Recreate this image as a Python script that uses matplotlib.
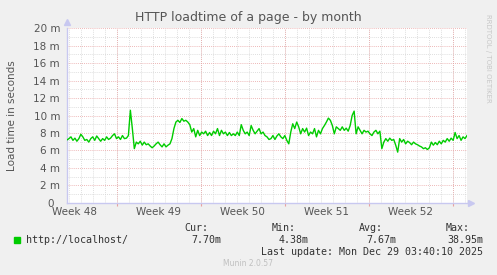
import matplotlib.pyplot as plt
import matplotlib.transforms as mtransforms
import numpy as np

# load time (milliseconds), ~2h averages over the month
load_ms = [
    7.2, 7.35, 7.55, 7.15, 7.4, 7.05, 7.35, 7.85, 7.55, 7.15,
    7.25, 6.95, 7.35, 7.55, 7.15, 7.65, 7.35, 7.05, 7.35, 7.15,
    7.55, 7.25, 7.4, 7.7, 7.9, 7.35, 7.55, 7.25, 7.7, 7.35,
    7.4, 7.7, 10.6, 8.5, 6.2, 6.95, 6.75, 7.05, 6.6, 6.95,
    6.65, 6.75, 6.5, 6.3, 6.5, 6.75, 6.95, 6.65, 6.4, 6.75,
    6.4, 6.6, 6.75, 7.35, 8.5, 9.25, 9.45, 9.2, 9.65, 9.35,
    9.45, 9.25, 8.95, 8.1, 8.5, 7.55, 8.3, 7.7, 8.1, 7.9,
    8.2, 7.7, 8.05, 7.7, 8.2, 7.9, 8.5, 7.7, 8.3, 7.9,
    8.1, 7.7, 8.05, 7.7, 7.9, 7.7, 8.1, 7.7, 8.95, 8.3,
    7.9, 8.1, 7.7, 8.85, 8.3, 7.9, 8.2, 8.5, 7.9, 8.1,
    7.7, 7.55, 7.25,
    7.35, 7.7, 7.25, 7.65, 7.9, 7.55, 7.35, 7.7, 7.15, 6.75,
    8.1, 9.05, 8.5, 9.25, 8.7, 7.9, 8.5, 8.1, 8.55, 7.7,
    8.1, 7.9, 8.5, 7.55, 8.3, 7.9, 8.5, 8.85, 9.25, 9.7,
    9.45, 8.85, 7.9, 8.7, 8.5, 8.3, 8.7, 8.3, 8.55, 8.2,
    8.85, 10.0, 10.5, 7.9, 8.7, 8.3, 7.9, 8.3, 8.1, 8.2,
    7.9, 7.7, 8.1, 8.3, 7.9, 8.2, 6.2, 6.95, 7.35, 7.05,
    7.4, 7.15, 7.25, 6.6, 5.8, 7.35, 6.95, 7.25, 6.75, 7.05,
    6.9, 6.65, 6.95, 6.75, 6.65, 6.5, 6.4, 6.2, 6.3, 6.1,
    6.3, 6.95, 6.6, 6.9, 6.65, 7.05, 6.75, 7.15, 6.95, 7.35,
    7.05, 7.4, 7.15, 8.05, 7.35, 7.7, 7.15, 7.55, 7.35, 7.7,
]
week_labels = ["Week 48", "Week 49", "Week 50", "Week 51", "Week 52"]
y_ticks = [0, 2, 4, 6, 8, 10, 12, 14, 16, 18, 20]
legend_name = "http://localhost/"
stats_names = ["Cur:", "Min:", "Avg:", "Max:"]
stats_values = ["7.70m", "4.38m", "7.67m", "38.95m"]
last_update = "Last update: Mon Dec 29 03:40:10 2025"

span_days = 33.33
first_monday = 4.14

W, H = 497, 275
bg = "#F0F0F0"
txt = "#555555"
axis_col = "#C8C8F0"

fig = plt.figure(figsize=(W / 100, H / 100), dpi=100, facecolor=bg)
ax = fig.add_axes([67 / W, 1 - 202.7 / H, 400 / W, (202.7 - 28.3) / H])
ax.set_facecolor("white")

t = np.linspace(0, span_days, len(load_ms))
ax.plot(t, load_ms, color="#00CC00", lw=1.0, zorder=3)

ax.set_xlim(0, span_days)
ax.set_ylim(0, 20)

# grid: minor grey dotted, major red dotted
minor_x = np.arange(first_monday % 1, span_days, 1.0)
major_x = np.arange(first_monday, span_days, 7.0)
for x in minor_x:
    ax.axvline(x, color="#D4D4D4", lw=0.6, ls=(0, (1, 1.5)), zorder=1)
for y in np.arange(1, 20, 2):
    ax.axhline(y, color="#D4D4D4", lw=0.6, ls=(0, (1, 1.5)), zorder=1)
for x in major_x:
    ax.axvline(x, color="#E8A0A0", lw=0.6, ls=(0, (1, 1.5)), zorder=2)
for y in y_ticks[1:]:
    ax.axhline(y, color="#E8A0A0", lw=0.6, ls=(0, (1, 1.5)), zorder=2)

ax.set_yticks(y_ticks)
ax.set_yticklabels([f"{v} m" if v else "0" for v in y_ticks], fontsize=7.5, color=txt)
ax.set_xticks(major_x - 3.5)
ax.set_xticklabels(week_labels, fontsize=7.5, color=txt)
ax.tick_params(axis="y", length=0, pad=5)
ax.tick_params(axis="x", length=0, pad=3)
ax.set_xticks(major_x, minor=True)
ax.tick_params(axis="x", which="minor", length=2, color="#E8A0A0", width=0.8)

# rrdtool keeps the bare "0" aligned as if it had a unit
zero_lbl = ax.get_yticklabels()[0]
zero_lbl.set_transform(zero_lbl.get_transform() +
                       mtransforms.ScaledTranslation(-0.06, 0, fig.dpi_scale_trans))

for s in ["top", "right"]:
    ax.spines[s].set_visible(False)
for s in ["left", "bottom"]:
    ax.spines[s].set_color(axis_col)
    ax.spines[s].set_linewidth(1.0)
ax.plot([0], [20.7], marker="^", ms=4, color=axis_col, clip_on=False, zorder=4)
ax.plot([span_days + 0.3], [0], marker=">", ms=4, color=axis_col, clip_on=False, zorder=4)

def ft(x, y, s, **kw):
    fig.text(x / W, 1 - y / H, s, **kw)

ft(248, 18, "HTTP loadtime of a page - by month", fontsize=9, color=txt,
   ha="center", va="center")
ft(12, 116, "Load time in seconds", fontsize=7.5, color=txt, rotation=90,
   ha="center", va="center")
ft(488, 58, "RRDTOOL / TOBI OETIKER", fontsize=5, color="#C8C8C8", rotation=270,
   ha="center", va="center")

mono = dict(family="DejaVu Sans Mono", fontsize=7.2, color="#333333", va="center")
fig.patches.append(plt.Rectangle((14 / W, 1 - 243 / H), 6 / W, 6 / H,
                                 transform=fig.transFigure, color="#00CC00"))
ft(26, 240, legend_name, ha="left", **mono)
name_right = [208, 296, 383, 470]
val_right = [221, 309, 396, 483]
for n, v, xn, xv in zip(stats_names, stats_values, name_right, val_right):
    ft(xn, 228, n, ha="right", **mono)
    ft(xv, 240, v, ha="right", **mono)
ft(483, 252, last_update, ha="right", **mono)
ft(248, 264, "Munin 2.0.57", fontsize=5.5, color="#C0C0C0", ha="center", va="center")

fig.savefig("out.png", dpi=100, facecolor=bg)
